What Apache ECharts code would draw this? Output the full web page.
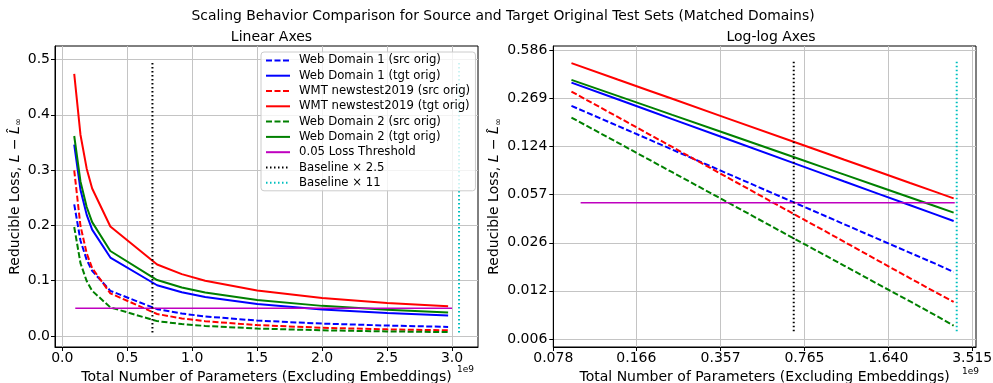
<!DOCTYPE html>
<html><head><meta charset="utf-8">
<script src="https://cdn.jsdelivr.net/npm/echarts@6/dist/echarts.min.js"></script>
<style>html,body{margin:0;padding:0;background:#fff}#c{width:993px;height:383px}</style>
</head><body><div id="c"></div>
<script>
// model sizes (x, in units of 1e9 parameters)
const params = [0.092, 0.14, 0.188, 0.23, 0.37, 0.73, 0.92, 1.1, 1.5, 2.0, 2.5, 2.97];
// reducible loss values
const web1Src = [0.238, 0.1726, 0.1375, 0.1177, 0.0816, 0.0484, 0.0405, 0.0353, 0.0278, 0.0223, 0.0188, 0.0164];
const web1Tgt = [0.346, 0.2646, 0.2190, 0.1924, 0.1418, 0.0917, 0.0790, 0.0704, 0.0577, 0.0480, 0.0416, 0.0372];
const wmtSrc  = [0.2996, 0.1992, 0.1494, 0.1227, 0.0771, 0.0397, 0.0317, 0.0266, 0.0196, 0.0148, 0.0119, 0.0101];
const wmtTgt  = [0.474, 0.364, 0.3026, 0.2667, 0.1979, 0.1292, 0.1118, 0.0999, 0.0823, 0.0687, 0.0598, 0.0536];
const web2Src = [0.197, 0.1318, 0.0992, 0.0817, 0.0517, 0.0268, 0.0215, 0.0181, 0.0134, 0.0102, 0.0082, 0.0069];
const web2Tgt = [0.3617, 0.2796, 0.2332, 0.2059, 0.1537, 0.1011, 0.0877, 0.0786, 0.0649, 0.0544, 0.0474, 0.0426];
// threshold line
const thresholdX = [0.1, 3.0];
const thresholdY = [0.05, 0.05];
// baseline vertical lines
const baseline25X = [0.694, 0.694];
const baseline11X = [3.054, 3.054];
const vlineY = [0.0063, 0.497];
// tick labels
const linXTicks = [0, 0.5, 1.0, 1.5, 2.0, 2.5, 3.0];
const linYTicks = [0, 0.1, 0.2, 0.3, 0.4, 0.5];
const logXTickValues = [0.078, 0.166, 0.357, 0.765, 1.640, 3.515];
const logXTickLabels = ['0.078', '0.166', '0.357', '0.765', '1.640', '3.515'];
const logYTickValues = [0.5855, 0.2694, 0.1240, 0.0570, 0.0262, 0.0121, 0.00556];
const logYTickLabels = ['0.586', '0.269', '0.124', '0.057', '0.026', '0.012', '0.006'];

const FONT = 'DejaVu Sans';
const DASH = [6, 2.5];
const DOT = [1.5, 2.5];
const zip = (xs, ys) => xs.map((x, i) => [x, ys[i]]);

const curves = [
  {name: 'Web Domain 1 (src orig)', ys: web1Src, color: '#0000ff', type: DASH},
  {name: 'Web Domain 1 (tgt orig)', ys: web1Tgt, color: '#0000ff', type: 'solid'},
  {name: 'WMT newstest2019 (src orig)', ys: wmtSrc, color: '#ff0000', type: DASH},
  {name: 'WMT newstest2019 (tgt orig)', ys: wmtTgt, color: '#ff0000', type: 'solid'},
  {name: 'Web Domain 2 (src orig)', ys: web2Src, color: '#008000', type: DASH},
  {name: 'Web Domain 2 (tgt orig)', ys: web2Tgt, color: '#008000', type: 'solid'}
];

const series = [];
[0, 1].forEach(g => {
  curves.forEach(c => series.push({
    name: c.name, type: 'line', xAxisIndex: g, yAxisIndex: g,
    data: zip(params, c.ys), symbol: 'none', showSymbol: false,
    lineStyle: {color: c.color, width: 2, type: c.type}, itemStyle: {color: c.color},
    z: 3
  }));
  series.push({
    name: '0.05 Loss Threshold', type: 'line', xAxisIndex: g, yAxisIndex: g,
    data: zip(thresholdX, thresholdY), symbol: 'none',
    lineStyle: {color: '#bf00bf', width: 1.5}, itemStyle: {color: '#bf00bf'}, z: 3
  });
  series.push({
    name: 'Baseline × 2.5', type: 'line', xAxisIndex: g, yAxisIndex: g,
    data: zip(baseline25X, vlineY), symbol: 'none',
    lineStyle: {color: '#000000', width: 2, type: DOT}, itemStyle: {color: '#000000'}, z: 3
  });
  series.push({
    name: 'Baseline × 11', type: 'line', xAxisIndex: g, yAxisIndex: g,
    data: zip(baseline11X, vlineY), symbol: 'none',
    lineStyle: {color: '#00bfbf', width: 2, type: DOT}, itemStyle: {color: '#00bfbf'}, z: 3
  });
});

const axisLabelStyle = {color: '#000', fontFamily: FONT, fontSize: 14};
const nameStyle = {color: '#000', fontFamily: FONT, fontSize: 14};
const gridLine = {show: true, lineStyle: {color: '#c4c4c4', width: 1}};
const tick = {show: true, length: 4, lineStyle: {color: '#000'}};
const yName = '{t|Reducible Loss, }{i|L}{t| − }{i|L̂}{s|∞}';
const yNameRich = {
  t: {fontFamily: FONT, fontSize: 14, color: '#000'},
  i: {fontFamily: FONT, fontSize: 14, fontStyle: 'italic', color: '#000'},
  s: {fontFamily: FONT, fontSize: 9.5, color: '#000', padding: [7, 0, 0, 0]}
};
const nearestLabel = (vals, labels) => v => {
  let bi = 0, bd = Infinity;
  vals.forEach((t, i) => { const d = Math.abs(Math.log(t) - Math.log(v)); if (d < bd) { bd = d; bi = i; } });
  return labels[bi];
};

const option = {
  animation: false,
  backgroundColor: '#fff',
  textStyle: {fontFamily: FONT},
  title: [
    {text: 'Scaling Behavior Comparison for Source and Target Original Test Sets (Matched Domains)',
     left: 498, top: 4, textAlign: 'center', textStyle: {fontFamily: FONT, fontSize: 13.9, fontWeight: 'normal', color: '#000'}},
    {text: 'Linear Axes', left: 266.5, top: 25, textAlign: 'center',
     textStyle: {fontFamily: FONT, fontSize: 14, fontWeight: 'normal', color: '#000'}},
    {text: 'Log-log Axes', left: 766, top: 25, textAlign: 'center',
     textStyle: {fontFamily: FONT, fontSize: 14, fontWeight: 'normal', color: '#000'}}
  ],
  legend: {
    orient: 'vertical', left: 261, top: 52,
    itemWidth: 24, itemHeight: 14, itemGap: 3.3,
    padding: [2.4, 5.3, 2, 4],
    itemStyle: {opacity: 0},
    backgroundColor: 'rgba(255,255,255,0.8)', borderColor: '#cccccc', borderWidth: 1, borderRadius: 3,
    textStyle: {fontFamily: FONT, fontSize: 11.7, color: '#000', padding: [0, 0, 0, 4]},
    data: ['Web Domain 1 (src orig)', 'Web Domain 1 (tgt orig)', 'WMT newstest2019 (src orig)',
           'WMT newstest2019 (tgt orig)', 'Web Domain 2 (src orig)', 'Web Domain 2 (tgt orig)',
           '0.05 Loss Threshold', 'Baseline × 2.5', 'Baseline × 11'],
    selectedMode: false
  },
  grid: [
    {left: 55, top: 46, width: 423, height: 301, outerBoundsMode: 'none', containLabel: false,
     show: true, borderColor: '#000', borderWidth: 1, backgroundColor: 'transparent'},
    {left: 553.3, top: 46, width: 422.7, height: 301, outerBoundsMode: 'none', containLabel: false,
     show: true, borderColor: '#000', borderWidth: 1, backgroundColor: 'transparent'}
  ],
  xAxis: [
    {type: 'value', gridIndex: 0, min: -0.056, max: 3.2,
     axisLine: {show: true, onZero: false, lineStyle: {color: '#000'}},
     axisTick: Object.assign({customValues: linXTicks}, tick),
     axisLabel: Object.assign({customValues: linXTicks, formatter: v => v.toFixed(1), margin: 4}, axisLabelStyle),
     splitLine: gridLine,
     name: 'Total Number of Parameters (Excluding Embeddings)', nameLocation: 'middle', nameGap: 20.5, nameTextStyle: nameStyle},
    {type: 'log', gridIndex: 1, min: 0.078, max: 3.639,
     axisLine: {show: true, onZero: false, lineStyle: {color: '#000'}},
     axisTick: Object.assign({customValues: logXTickValues}, tick),
     axisLabel: Object.assign({customValues: logXTickValues, margin: 4,
       formatter: nearestLabel(logXTickValues, logXTickLabels)}, axisLabelStyle),
     splitLine: gridLine, minorTick: {show: false}, minorSplitLine: {show: false},
     name: 'Total Number of Parameters (Excluding Embeddings)', nameLocation: 'middle', nameGap: 20.5, nameTextStyle: nameStyle}
  ],
  yAxis: [
    {type: 'value', gridIndex: 0, min: -0.02, max: 0.5245,
     axisLine: {show: true, onZero: false, lineStyle: {color: '#000'}},
     axisTick: Object.assign({customValues: linYTicks}, tick),
     axisLabel: Object.assign({customValues: linYTicks, formatter: v => v.toFixed(1), margin: 5}, axisLabelStyle),
     splitLine: gridLine,
     name: yName, nameLocation: 'middle', nameGap: 28, nameRotate: 90, nameTextStyle: Object.assign({rich: yNameRich}, nameStyle)},
    {type: 'log', gridIndex: 1, min: 0.00489, max: 0.6245,
     axisLine: {show: true, onZero: false, lineStyle: {color: '#000'}},
     axisTick: Object.assign({customValues: logYTickValues}, tick),
     axisLabel: Object.assign({customValues: logYTickValues, margin: 6,
       formatter: nearestLabel(logYTickValues, logYTickLabels)}, axisLabelStyle),
     splitLine: gridLine, minorTick: {show: false}, minorSplitLine: {show: false},
     name: yName, nameLocation: 'middle', nameGap: 46, nameRotate: 90, nameTextStyle: Object.assign({rich: yNameRich}, nameStyle)}
  ],
  graphic: [
    {type: 'text', left: 457, top: 365, style: {text: '1e9', fontFamily: FONT, fontSize: 9, fill: '#000'}},
    {type: 'text', left: 962, top: 367, style: {text: '1e9', fontFamily: FONT, fontSize: 9, fill: '#000'}}
  ],
  series: series
};
const chart = echarts.init(document.getElementById('c'), null, {renderer: 'canvas'});
chart.setOption(option);
</script>
</body></html>
